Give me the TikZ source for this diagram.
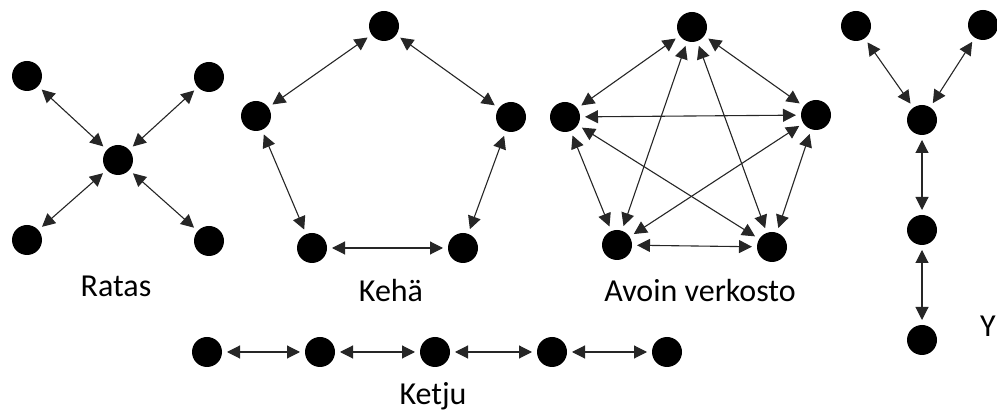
\documentclass[tikz,border=0pt]{standalone}
\usepackage{fontspec}
\setmainfont{Carlito}
\usetikzlibrary{arrows.meta}

\begin{document}
\begin{tikzpicture}[x=1pt,y=-1pt,
                    dot/.style={circle,fill=black,minimum size=30pt,
                    inner sep=0pt,outer sep=5pt},
                    lnk/.style={{Triangle[length=13pt,width=13pt]}-{Triangle[length=13pt,width=13pt]},
                    line width=1.1pt,black!85},
                    lbl/.style={anchor=base,inner sep=0pt,
                    font=\fontsize{32}{38}\selectfont}]
    \useasboundingbox (0,0) rectangle (997,419);
    % Ratas
    \node[dot](r0) at (118,160) {};
    \node[dot](r1) at (27,76) {};
    \node[dot](r2) at (209,77) {};
    \node[dot](r3) at (27,240) {};
    \node[dot](r4) at (209,241) {};
    \draw[lnk] (r0) -- (r1);
    \draw[lnk] (r0) -- (r2);
    \draw[lnk] (r0) -- (r3);
    \draw[lnk] (r0) -- (r4);
    \node[lbl](ratas) at (116,297) {Ratas};
    % Kehä
    \node[dot](k1) at (384,26) {};
    \node[dot](k2) at (256,116) {};
    \node[dot](k3) at (511,117) {};
    \node[dot](k4) at (312,248) {};
    \node[dot](k5) at (463,248) {};
    \draw[lnk] (k1) -- (k2);
    \draw[lnk] (k1) -- (k3);
    \draw[lnk] (k2) -- (k4);
    \draw[lnk] (k3) -- (k5);
    \draw[lnk] (k4) -- (k5);
    \node[lbl](keha) at (391,302) {Kehä};
    % Avoin verkosto
    \node[dot](a1) at (692,27) {};
    \node[dot](a2) at (565,117) {};
    \node[dot](a3) at (816,115) {};
    \node[dot](a4) at (617,245) {};
    \node[dot](a5) at (772,247) {};
    \draw[lnk] (a1) -- (a2);
    \draw[lnk] (a1) -- (a3);
    \draw[lnk] (a1) -- (a4);
    \draw[lnk] (a1) -- (a5);
    \draw[lnk] (a2) -- (a3);
    \draw[lnk] (a2) -- (a4);
    \draw[lnk] (a2) -- (a5);
    \draw[lnk] (a3) -- (a4);
    \draw[lnk] (a3) -- (a5);
    \draw[lnk] (a4) -- (a5);
    \node[lbl](avoin) at (700,302) {Avoin verkosto};
    % Y
    \node[dot](y0) at (922,120) {};
    \node[dot](y1) at (856,26) {};
    \node[dot](y2) at (983,25) {};
    \node[dot](y3) at (922,230) {};
    \node[dot](y4) at (922,340) {};
    \draw[lnk] (y0) -- (y1);
    \draw[lnk] (y0) -- (y2);
    \draw[lnk] (y0) -- (y3);
    \draw[lnk] (y3) -- (y4);
    \node[lbl](ylbl) at (988,337) {Y};
    % Ketju
    \node[dot](c1) at (207,352) {};
    \node[dot](c2) at (320,352) {};
    \node[dot](c3) at (435,352) {};
    \node[dot](c4) at (552,352) {};
    \node[dot](c5) at (667,352) {};
    \draw[lnk] (c1) -- (c2);
    \draw[lnk] (c2) -- (c3);
    \draw[lnk] (c3) -- (c4);
    \draw[lnk] (c4) -- (c5);
    \node[lbl](ketju) at (433,405) {Ketju};
\end{tikzpicture}
\end{document}
